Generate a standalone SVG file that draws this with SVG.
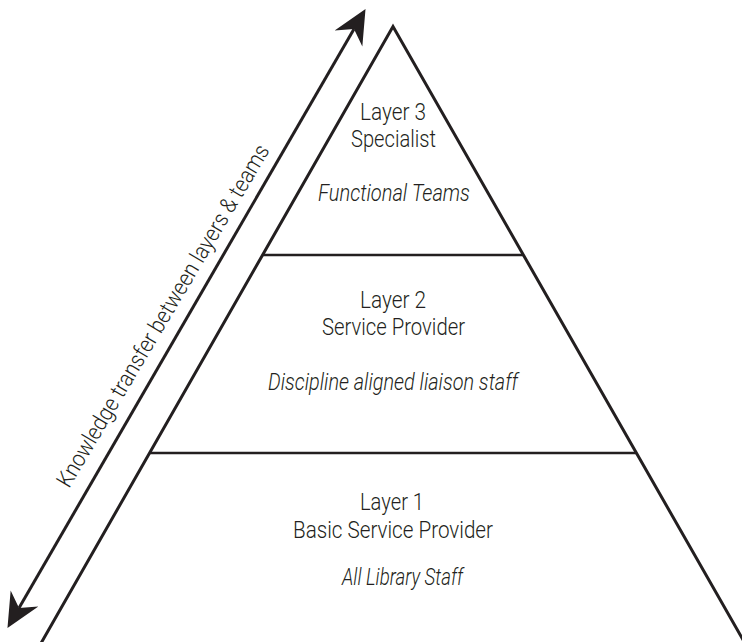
<svg xmlns="http://www.w3.org/2000/svg" width="742" height="642" viewBox="0 0 742 642">
  <style>
    .edge { fill: none; stroke: #231f20; stroke-width: 3; stroke-linejoin: miter; stroke-miterlimit: 10; }
    .layer { fill: none; stroke: #231f20; stroke-width: 2.5; }
    .shaft { fill: none; stroke: #231f20; stroke-width: 3; }
    .lbl { font-family: Roboto, "Liberation Sans", Arial, sans-serif; font-weight: 300; font-size: 23px; fill: #231f20; }
    .it { font-style: italic; }
  </style>
  <defs>
    <marker id="head" markerUnits="userSpaceOnUse" viewBox="0 -17 35 34" markerWidth="35" markerHeight="34" refX="11" refY="0" orient="auto-start-reverse">
      <path d="M34,0 L0,-16 L11,0 L0,16 Z" fill="#231f20"/>
    </marker>
  </defs>
  <rect width="742" height="642" fill="#ffffff"/>

  <g id="pyramid">
    <polyline class="edge" points="40,645 393,26.5 746,645"/>
  </g>

  <g id="dividers">
    <line class="layer" x1="262.6" y1="255" x2="523.4" y2="255"/>
    <line class="layer" x1="149.6" y1="453" x2="636.4" y2="453"/>
  </g>

  <g id="layer3">
    <text class="lbl" x="360" y="120" textLength="66" lengthAdjust="spacingAndGlyphs">Layer 3</text>
    <text class="lbl" x="351" y="147" textLength="85" lengthAdjust="spacingAndGlyphs">Specialist</text>
    <text class="lbl it" x="318" y="201" textLength="152" lengthAdjust="spacingAndGlyphs">Functional Teams</text>
  </g>

  <g id="layer2">
    <text class="lbl" x="360" y="308" textLength="66" lengthAdjust="spacingAndGlyphs">Layer 2</text>
    <text class="lbl" x="322" y="335" textLength="143" lengthAdjust="spacingAndGlyphs">Service Provider</text>
    <text class="lbl it" x="268" y="390" textLength="250" lengthAdjust="spacingAndGlyphs">Discipline aligned liaison staff</text>
  </g>

  <g id="layer1">
    <text class="lbl" x="360" y="510" textLength="64" lengthAdjust="spacingAndGlyphs">Layer 1</text>
    <text class="lbl" x="293" y="538" textLength="200" lengthAdjust="spacingAndGlyphs">Basic Service Provider</text>
    <text class="lbl it" x="342" y="585" textLength="121" lengthAdjust="spacingAndGlyphs">All Library Staff</text>
  </g>

  <g id="connectors">
    <path class="shaft" d="M19,608 L354,29" marker-start="url(#head)" marker-end="url(#head)"/>
  </g>

  <g id="arrow-label">
    <text class="lbl" transform="translate(69,489) rotate(-59.3)" x="0" y="0" textLength="394" lengthAdjust="spacingAndGlyphs">Knowledge transfer between layers &amp; teams</text>
  </g>
</svg>
